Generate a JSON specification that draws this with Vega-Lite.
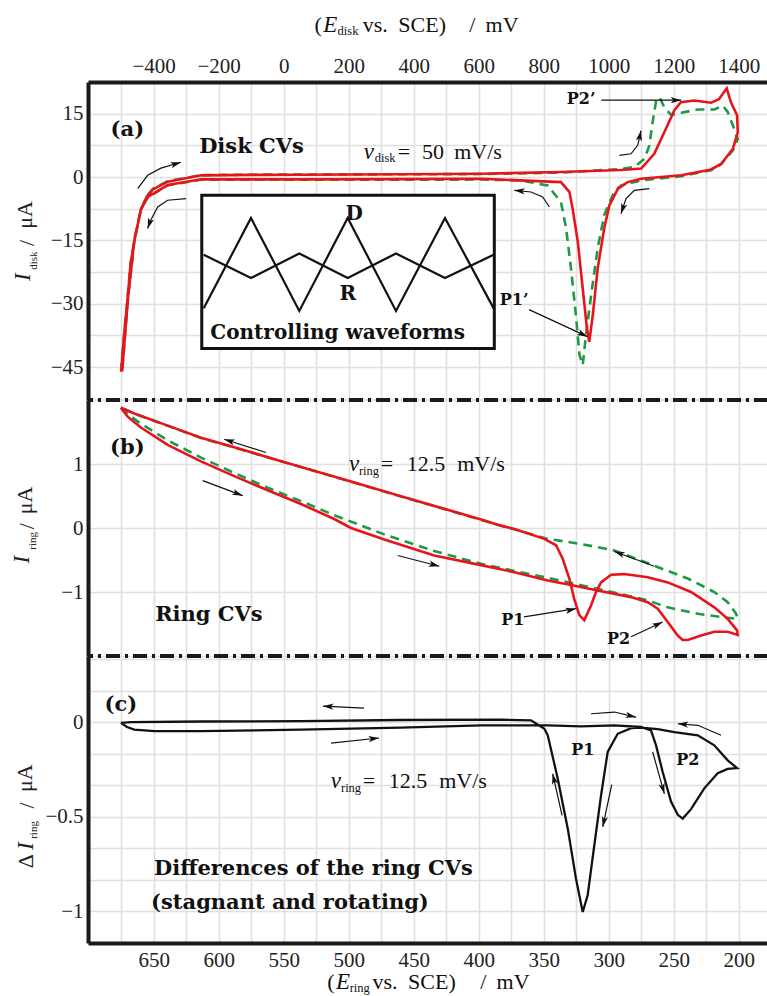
{
"$schema": "https://vega.github.io/schema/vega-lite/v6.json",
"background": "white",
"padding": {"left": 10, "top": 13, "right": 0, "bottom": 0},
"spacing": 0,
"bounds": "flush",
"config": {
 "view": {"stroke": null},
 "axis": {"labelFont": "Liberation Serif", "labelFontSize": 21, "labelColor": "#222", "grid": true, "gridColor": "#e0e0e0", "gridOpacity": 1, "gridWidth": 1.6, "ticks": false, "domainColor": "#1a1a1a", "domainWidth": 4, "labelOverlap": false, "labelFlush": false}
},
"datasets": {
 "diskRed": [
  {"i":1,"x":-500,"y":-46.1},{"i":2,"x":-490,"y":-36.6},{"i":3,"x":-480,"y":-28.7},{"i":4,"x":-471,"y":-20.6},{"i":5,"x":-458,"y":-14.4},{"i":6,"x":-440,"y":-8.0},{"i":7,"x":-421,"y":-4.6},{"i":8,"x":-402,"y":-2.9},{"i":9,"x":-357,"y":-1.1},{"i":10,"x":-254,"y":0.4},{"i":11,"x":-101,"y":0.5},{"i":12,"x":53,"y":0.55},{"i":13,"x":361,"y":0.65},{"i":14,"x":607,"y":0.78},{"i":15,"x":853,"y":1.2},{"i":16,"x":1038,"y":1.65},{"i":17,"x":1100,"y":2.0},{"i":18,"x":1140,"y":5.5},{"i":19,"x":1171,"y":10.6},{"i":20,"x":1202,"y":15.8},{"i":21,"x":1222,"y":17.7},{"i":22,"x":1263,"y":18.1},{"i":23,"x":1315,"y":17.6},{"i":24,"x":1339,"y":18.4},{"i":25,"x":1363,"y":21.0},{"i":26,"x":1376,"y":17.7},{"i":27,"x":1395,"y":14.6},{"i":28,"x":1397,"y":10.6},{"i":29,"x":1382,"y":6.7},{"i":30,"x":1346,"y":3.1},{"i":31,"x":1315,"y":1.8},{"i":32,"x":1223,"y":0.4},{"i":33,"x":1100,"y":-0.4},{"i":34,"x":1058,"y":-1.2},{"i":35,"x":1028,"y":-2.8},{"i":36,"x":1002,"y":-6.7},{"i":37,"x":986,"y":-12.2},{"i":38,"x":966,"y":-21.7},{"i":39,"x":951,"y":-32.7},{"i":40,"x":940,"y":-39.0},{"i":41,"x":933,"y":-35.8},{"i":42,"x":920,"y":-26.4},{"i":43,"x":905,"y":-15.4},{"i":44,"x":889,"y":-7.5},{"i":45,"x":879,"y":-3.5},{"i":46,"x":853,"y":-1.2},{"i":47,"x":607,"y":-0.4},{"i":48,"x":361,"y":-0.5},{"i":49,"x":53,"y":-0.55},{"i":50,"x":-254,"y":-0.55},{"i":51,"x":-357,"y":-1.9},{"i":52,"x":-418,"y":-4.7},{"i":53,"x":-439,"y":-7.5},{"i":54,"x":-460,"y":-15.4},{"i":55,"x":-479,"y":-28.7},{"i":56,"x":-497,"y":-46}
 ],
 "diskGreen": [
  {"i":1,"x":-500,"y":-46},{"i":2,"x":-490,"y":-36.5},{"i":3,"x":-480,"y":-28.6},{"i":4,"x":-471,"y":-20.5},{"i":5,"x":-458,"y":-14.3},{"i":6,"x":-440,"y":-7.9},{"i":7,"x":-421,"y":-4.5},{"i":8,"x":-402,"y":-2.8},{"i":9,"x":-357,"y":-1.0},{"i":10,"x":-254,"y":0.45},{"i":11,"x":-101,"y":0.55},{"i":12,"x":53,"y":0.6},{"i":13,"x":361,"y":0.65},{"i":14,"x":607,"y":0.7},{"i":15,"x":853,"y":1.05},{"i":16,"x":1038,"y":1.9},{"i":17,"x":1079,"y":2.4},{"i":18,"x":1110,"y":4.3},{"i":19,"x":1125,"y":7.5},{"i":20,"x":1135,"y":13.0},{"i":21,"x":1146,"y":18.1},{"i":22,"x":1156,"y":18.9},{"i":23,"x":1171,"y":16.5},{"i":24,"x":1192,"y":14.7},{"i":25,"x":1223,"y":15.2},{"i":26,"x":1274,"y":16.0},{"i":27,"x":1325,"y":16.0},{"i":28,"x":1351,"y":16.9},{"i":29,"x":1366,"y":15.4},{"i":30,"x":1386,"y":11.4},{"i":31,"x":1397,"y":9.0},{"i":32,"x":1382,"y":6.3},{"i":33,"x":1346,"y":3.1},{"i":34,"x":1315,"y":1.6},{"i":35,"x":1223,"y":0.2},{"i":36,"x":1100,"y":-0.8},{"i":37,"x":1038,"y":-2.0},{"i":38,"x":1017,"y":-3.5},{"i":39,"x":986,"y":-9.0},{"i":40,"x":966,"y":-16.9},{"i":41,"x":946,"y":-27.9},{"i":42,"x":930,"y":-37.4},{"i":43,"x":920,"y":-44.5},{"i":44,"x":910,"y":-42.1},{"i":45,"x":899,"y":-32.7},{"i":46,"x":884,"y":-21.7},{"i":47,"x":869,"y":-12.2},{"i":48,"x":853,"y":-5.9},{"i":49,"x":812,"y":-2.0},{"i":50,"x":730,"y":-0.8},{"i":51,"x":607,"y":-0.6},{"i":52,"x":361,"y":-0.65},{"i":53,"x":53,"y":-0.65},{"i":54,"x":-254,"y":-0.65},{"i":55,"x":-357,"y":-2.0},{"i":56,"x":-418,"y":-4.8},{"i":57,"x":-439,"y":-7.6},{"i":58,"x":-460,"y":-15.5},{"i":59,"x":-479,"y":-28.7},{"i":60,"x":-497,"y":-46}
 ],
 "box": [{"x":-252,"x2":648,"y":-4.32,"y2":-40.6}],
 "wave": [
  {"w":"D","i":1,"x":-246,"y":-31.1},{"w":"D","i":2,"x":-100.6,"y":-9.7},{"w":"D","i":3,"x":48,"y":-31.7},{"w":"D","i":4,"x":197,"y":-9.7},{"w":"D","i":5,"x":345.5,"y":-31.7},{"w":"D","i":6,"x":496.3,"y":-9.7},{"w":"D","i":7,"x":646,"y":-31.1},
  {"w":"R","i":1,"x":-246,"y":-18.4},{"w":"R","i":2,"x":-100.6,"y":-23.9},{"w":"R","i":3,"x":48,"y":-18.1},{"w":"R","i":4,"x":197,"y":-23.9},{"w":"R","i":5,"x":345.5,"y":-18.1},{"w":"R","i":6,"x":496.3,"y":-23.9},{"w":"R","i":7,"x":646,"y":-18.4}
 ],
 "sepB": [{"x":177.5,"x2":700.5,"y":2}],
 "sepC": [{"x":177.5,"x2":700.5,"y":0.349}],
 "ringRed": [
  {"i":1,"x":675.2,"y":1.88},{"i":2,"x":670,"y":1.74},{"i":3,"x":659.8,"y":1.57},{"i":4,"x":639.2,"y":1.30},{"i":5,"x":613.6,"y":1.04},{"i":6,"x":588,"y":0.81},{"i":7,"x":562.3,"y":0.59},{"i":8,"x":536.7,"y":0.375},{"i":9,"x":511.1,"y":0.14},{"i":10,"x":498.2,"y":0.0},{"i":11,"x":472.6,"y":-0.18},{"i":12,"x":434.2,"y":-0.43},{"i":13,"x":398.2,"y":-0.58},{"i":14,"x":372.6,"y":-0.69},{"i":15,"x":346.9,"y":-0.82},{"i":16,"x":329,"y":-0.89},{"i":17,"x":308.5,"y":-0.975},{"i":18,"x":282.8,"y":-1.08},{"i":19,"x":270,"y":-1.16},{"i":20,"x":262.3,"y":-1.26},{"i":21,"x":254.6,"y":-1.47},{"i":22,"x":246.9,"y":-1.68},{"i":23,"x":243.1,"y":-1.75},{"i":24,"x":239.2,"y":-1.75},{"i":25,"x":229,"y":-1.68},{"i":26,"x":218.8,"y":-1.62},{"i":27,"x":208.5,"y":-1.62},{"i":28,"x":200.8,"y":-1.67},
  {"i":29,"x":201.3,"y":-1.6},{"i":30,"x":208.5,"y":-1.42},{"i":31,"x":218.8,"y":-1.24},{"i":32,"x":236.7,"y":-1.0},{"i":33,"x":254.6,"y":-0.85},{"i":34,"x":270,"y":-0.77},{"i":35,"x":288,"y":-0.72},{"i":36,"x":298.2,"y":-0.73},{"i":37,"x":305.9,"y":-0.85},{"i":38,"x":309.8,"y":-1.0},{"i":39,"x":313.6,"y":-1.21},{"i":40,"x":318.8,"y":-1.44},{"i":41,"x":322.6,"y":-1.36},{"i":42,"x":326.5,"y":-1.11},{"i":43,"x":330.3,"y":-0.79},{"i":44,"x":335.4,"y":-0.48},{"i":45,"x":340.5,"y":-0.27},{"i":46,"x":349.5,"y":-0.17},{"i":47,"x":372.6,"y":-0.016},{"i":48,"x":382.8,"y":0.037},{"i":49,"x":398.2,"y":0.131},{"i":50,"x":421.3,"y":0.268},{"i":51,"x":459.8,"y":0.497},{"i":52,"x":498.2,"y":0.726},{"i":53,"x":536.7,"y":0.955},{"i":54,"x":562.3,"y":1.107},{"i":55,"x":588,"y":1.26},{"i":56,"x":613.6,"y":1.41},{"i":57,"x":639.2,"y":1.60},{"i":58,"x":664.9,"y":1.79},{"i":59,"x":675.2,"y":1.88}
 ],
 "ringGreen": [
  {"i":1,"x":675.2,"y":1.88},{"i":2,"x":670,"y":1.78},{"i":3,"x":659.8,"y":1.63},{"i":4,"x":639.2,"y":1.37},{"i":5,"x":613.6,"y":1.10},{"i":6,"x":588,"y":0.86},{"i":7,"x":562.3,"y":0.63},{"i":8,"x":536.7,"y":0.42},{"i":9,"x":511.1,"y":0.2},{"i":10,"x":472.6,"y":-0.1},{"i":11,"x":434.2,"y":-0.36},{"i":12,"x":398.2,"y":-0.56},{"i":13,"x":346.9,"y":-0.78},{"i":14,"x":308.5,"y":-0.95},{"i":15,"x":270,"y":-1.13},{"i":16,"x":254.6,"y":-1.24},{"i":17,"x":231.5,"y":-1.34},{"i":18,"x":213.6,"y":-1.39},{"i":19,"x":200.8,"y":-1.42},
  {"i":20,"x":202,"y":-1.34},{"i":21,"x":208.5,"y":-1.16},{"i":22,"x":218.8,"y":-1.0},{"i":23,"x":239.2,"y":-0.79},{"i":24,"x":264.9,"y":-0.59},{"i":25,"x":295.7,"y":-0.35},{"i":26,"x":321.3,"y":-0.25},{"i":27,"x":346.9,"y":-0.17},{"i":28,"x":372.6,"y":-0.02},{"i":29,"x":382.8,"y":0.035},{"i":30,"x":398.2,"y":0.128},{"i":31,"x":421.3,"y":0.265},{"i":32,"x":459.8,"y":0.494},{"i":33,"x":498.2,"y":0.723},{"i":34,"x":536.7,"y":0.952},{"i":35,"x":562.3,"y":1.104},{"i":36,"x":588,"y":1.257},{"i":37,"x":613.6,"y":1.407},{"i":38,"x":639.2,"y":1.597},{"i":39,"x":664.9,"y":1.787},{"i":40,"x":675.2,"y":1.88}
 ],
 "diff": [
  {"i":1,"x":675.2,"y":-0.004},{"i":2,"x":670.5,"y":-0.026},{"i":3,"x":664.9,"y":-0.04},{"i":4,"x":649.5,"y":-0.048},{"i":5,"x":613.6,"y":-0.048},{"i":6,"x":536.7,"y":-0.04},{"i":7,"x":459.8,"y":-0.029},{"i":8,"x":398.2,"y":-0.017},{"i":9,"x":346.9,"y":-0.017},{"i":10,"x":321.3,"y":-0.023},{"i":11,"x":295.7,"y":-0.017},{"i":12,"x":275.2,"y":-0.026},{"i":13,"x":267.5,"y":-0.044},{"i":14,"x":263.6,"y":-0.123},{"i":15,"x":258.5,"y":-0.264},{"i":16,"x":252.1,"y":-0.42},{"i":17,"x":246.9,"y":-0.49},{"i":18,"x":243.1,"y":-0.51},{"i":19,"x":236.7,"y":-0.46},{"i":20,"x":226.5,"y":-0.35},{"i":21,"x":216.2,"y":-0.27},{"i":22,"x":208.5,"y":-0.247},{"i":23,"x":201.3,"y":-0.243},
  {"i":24,"x":208.5,"y":-0.202},{"i":25,"x":218.8,"y":-0.123},{"i":26,"x":231.5,"y":-0.07},{"i":27,"x":249.5,"y":-0.053},{"i":28,"x":262.3,"y":-0.037},{"i":29,"x":275.2,"y":-0.029},{"i":30,"x":282.8,"y":-0.032},{"i":31,"x":293.1,"y":-0.062},{"i":32,"x":300.8,"y":-0.158},{"i":33,"x":305.9,"y":-0.387},{"i":34,"x":311.1,"y":-0.651},{"i":35,"x":316.2,"y":-0.915},{"i":36,"x":320,"y":-1.003},{"i":37,"x":325.2,"y":-0.827},{"i":38,"x":331.5,"y":-0.563},{"i":39,"x":339.2,"y":-0.299},{"i":40,"x":346.9,"y":-0.07},{"i":41,"x":349.5,"y":-0.035},{"i":42,"x":359.8,"y":0.009},{"i":43,"x":382.8,"y":0.013},{"i":44,"x":459.8,"y":0.011},{"i":45,"x":536.7,"y":0.005},{"i":46,"x":613.6,"y":0.003},{"i":47,"x":667.5,"y":0.0},{"i":48,"x":675.2,"y":-0.004}
 ],
 "arr": [
  {"p":"a","a":1,"i":1,"x":-449,"y":-2.76},{"p":"a","a":1,"i":2,"x":-418.5,"y":0.4},{"p":"a","a":1,"i":3,"x":-377.5,"y":2.1},{"p":"a","a":1,"i":4,"x":-316,"y":3.5},
  {"p":"a","a":2,"i":1,"x":-300.6,"y":-5.13},{"p":"a","a":2,"i":2,"x":-357,"y":-5.5},{"p":"a","a":2,"i":3,"x":-387.7,"y":-7.1},{"p":"a","a":2,"i":4,"x":-411.4,"y":-10.6},{"p":"a","a":2,"i":5,"x":-418.5,"y":-12.2},
  {"p":"a","a":3,"i":1,"x":1032.6,"y":5.13},{"p":"a","a":3,"i":2,"x":1068.6,"y":5.5},{"p":"a","a":3,"i":3,"x":1089.2,"y":7.5},{"p":"a","a":3,"i":4,"x":1099.4,"y":11.0},
  {"p":"a","a":4,"i":1,"x":1125,"y":-2.76},{"p":"a","a":4,"i":2,"x":1078.8,"y":-3.14},{"p":"a","a":4,"i":3,"x":1053.2,"y":-5.13},{"p":"a","a":4,"i":4,"x":1037.8,"y":-8.67},
  {"p":"a","a":5,"i":1,"x":817.2,"y":-7.09},{"p":"a","a":5,"i":2,"x":796.9,"y":-4.72},{"p":"a","a":5,"i":3,"x":760.9,"y":-3.54},{"p":"a","a":5,"i":4,"x":709.5,"y":-3.14},
  {"p":"a","a":6,"i":1,"x":977,"y":18.2},{"p":"a","a":6,"i":2,"x":1223,"y":18.2},
  {"p":"a","a":7,"i":1,"x":754.8,"y":-31.4},{"p":"a","a":7,"i":2,"x":934.8,"y":-37.8},
  {"p":"b","a":1,"i":1,"x":563.6,"y":1.18},{"p":"b","a":1,"i":2,"x":595.7,"y":1.386},
  {"p":"b","a":2,"i":1,"x":612.3,"y":0.74},{"p":"b","a":2,"i":2,"x":581.5,"y":0.505},
  {"p":"b","a":3,"i":1,"x":462.3,"y":-0.43},{"p":"b","a":3,"i":2,"x":430.3,"y":-0.597},
  {"p":"b","a":4,"i":1,"x":264.9,"y":-0.597},{"p":"b","a":4,"i":2,"x":295.7,"y":-0.368},
  {"p":"b","a":5,"i":1,"x":365.2,"y":-1.39},{"p":"b","a":5,"i":2,"x":325.2,"y":-1.26},
  {"p":"b","a":6,"i":1,"x":282.8,"y":-1.7},{"p":"b","a":6,"i":2,"x":258.5,"y":-1.47},
  {"p":"c","a":1,"i":1,"x":488.2,"y":0.074},{"p":"c","a":1,"i":2,"x":519.8,"y":0.084},
  {"p":"c","a":2,"i":1,"x":513.6,"y":-0.111},{"p":"c","a":2,"i":2,"x":476.7,"y":-0.084},
  {"p":"c","a":3,"i":1,"x":313.6,"y":0.044},{"p":"c","a":3,"i":2,"x":295.7,"y":0.053},{"p":"c","a":3,"i":3,"x":279,"y":0.026},
  {"p":"c","a":4,"i":1,"x":213.6,"y":-0.07},{"p":"c","a":4,"i":2,"x":231.5,"y":-0.017},{"p":"c","a":4,"i":3,"x":246.9,"y":-0.009},
  {"p":"c","a":5,"i":1,"x":335.9,"y":-0.493},{"p":"c","a":5,"i":2,"x":343.1,"y":-0.273},
  {"p":"c","a":6,"i":1,"x":297.7,"y":-0.331},{"p":"c","a":6,"i":2,"x":304.6,"y":-0.554},
  {"p":"c","a":7,"i":1,"x":266.2,"y":-0.158},{"p":"c","a":7,"i":2,"x":257.2,"y":-0.379}
 ],
 "head": [
  {"p":"a","x":-316,"y":3.5,"ang":343},{"p":"a","x":-418.5,"y":-12.2,"ang":109},{"p":"a","x":1099.4,"y":11.0,"ang":282},{"p":"a","x":1037.8,"y":-8.67,"ang":108},{"p":"a","x":709.5,"y":-3.14,"ang":186},{"p":"a","x":1223,"y":18.2,"ang":0},{"p":"a","x":934.8,"y":-37.8,"ang":25},
  {"p":"b","x":595.7,"y":1.386,"ang":198},{"p":"b","x":581.5,"y":0.505,"ang":21},{"p":"b","x":430.3,"y":-0.597,"ang":14},{"p":"b","x":295.7,"y":-0.368,"ang":200},{"p":"b","x":325.2,"y":-1.26,"ang":348},{"p":"b","x":258.5,"y":-1.47,"ang":335},
  {"p":"c","x":519.8,"y":0.084,"ang":183},{"p":"c","x":476.7,"y":-0.084,"ang":354},{"p":"c","x":279,"y":0.026,"ang":13},{"p":"c","x":246.9,"y":-0.009,"ang":185},{"p":"c","x":343.1,"y":-0.273,"ang":257},{"p":"c","x":304.6,"y":-0.554,"ang":102},{"p":"c","x":257.2,"y":-0.379,"ang":74}
 ],
 "txt": [
  {"p":"a","k":"B","t":"(a)","x":-481,"y":11.1},
  {"p":"a","k":"B","t":"Disk CVs","x":-99,"y":7.2},
  {"p":"a","k":"I","t":"ν","x":262,"y":5.9},
  {"p":"a","k":"S","t":"disk","x":312,"y":4.4},
  {"p":"a","k":"N","t":"=","x":370,"y":5.9},
  {"p":"a","k":"N","t":"50","x":459,"y":5.9},
  {"p":"a","k":"N","t":"mV/s","x":598,"y":5.9},
  {"p":"a","k":"P","t":"P2’","x":915,"y":18.5},
  {"p":"a","k":"P","t":"P1’","x":709,"y":-29.1},
  {"p":"a","k":"W","t":"D","x":217,"y":-8.7},
  {"p":"a","k":"W","t":"R","x":197,"y":-27.6},
  {"p":"a","k":"W","t":"Controlling waveforms","x":166,"y":-37.0},
  {"p":"a","k":"TN","t":"(","x":106,"y":36.1},
  {"p":"a","k":"TI","t":"E","x":143,"y":36.1},
  {"p":"a","k":"TS","t":"disk","x":198,"y":34.6},
  {"p":"a","k":"TN","t":"vs.","x":282,"y":36.1},
  {"p":"a","k":"TN","t":"SCE)","x":426,"y":36.1},
  {"p":"a","k":"TN","t":"/","x":580,"y":36.1},
  {"p":"a","k":"TN","t":"mV","x":672,"y":36.1},
  {"p":"a","k":"IR","t":"I","x":-801,"y":-23.7},
  {"p":"a","k":"SR","t":"disk","x":-768,"y":-19.8},
  {"p":"a","k":"NR","t":"/","x":-790,"y":-15.6},
  {"p":"a","k":"NR","t":"μA","x":-796,"y":-9.0},
  {"p":"b","k":"B","t":"(b)","x":670.2,"y":1.257},
  {"p":"b","k":"B","t":"Ring CVs","x":607.5,"y":-1.36},
  {"p":"b","k":"I","t":"ν","x":495.9,"y":0.997},
  {"p":"b","k":"S","t":"ring","x":484.4,"y":0.883},
  {"p":"b","k":"N","t":"=","x":470.5,"y":0.997},
  {"p":"b","k":"N","t":"12.5","x":440.5,"y":0.997},
  {"p":"b","k":"N","t":"mV/s","x":398.2,"y":0.997},
  {"p":"b","k":"P","t":"P1","x":373.8,"y":-1.433},
  {"p":"b","k":"P","t":"P2","x":292.5,"y":-1.73},
  {"p":"b","k":"IR","t":"I","x":751.3,"y":-0.495},
  {"p":"b","k":"SR","t":"ring","x":742.8,"y":-0.2},
  {"p":"b","k":"NR","t":"/","x":747.5,"y":0.03},
  {"p":"b","k":"NR","t":"μA","x":749,"y":0.431},
  {"p":"c","k":"B","t":"(c)","x":675.2,"y":0.09},
  {"p":"c","k":"P","t":"P1","x":320,"y":-0.15},
  {"p":"c","k":"P","t":"P2","x":239.2,"y":-0.198},
  {"p":"c","k":"B","t":"Differences of the ring CVs","x":527.1,"y":-0.776},
  {"p":"c","k":"B","t":"(stagnant and rotating)","x":545.2,"y":-0.956},
  {"p":"c","k":"I","t":"ν","x":509.8,"y":-0.312},
  {"p":"c","k":"S","t":"ring","x":498.2,"y":-0.348},
  {"p":"c","k":"N","t":"=","x":484.4,"y":-0.312},
  {"p":"c","k":"N","t":"12.5","x":454.4,"y":-0.312},
  {"p":"c","k":"N","t":"mV/s","x":412.1,"y":-0.312},
  {"p":"c","k":"NR","t":"Δ","x":748.2,"y":-0.735},
  {"p":"c","k":"IR","t":"I","x":748.2,"y":-0.655},
  {"p":"c","k":"SR","t":"ring","x":742,"y":-0.57},
  {"p":"c","k":"NR","t":"/","x":747.5,"y":-0.44},
  {"p":"c","k":"NR","t":"μA","x":749,"y":-0.296},
  {"p":"c","k":"TN","t":"(","x":513.6,"y":-1.374},
  {"p":"c","k":"TI","t":"E","x":504.4,"y":-1.374},
  {"p":"c","k":"TS","t":"ring","x":491.5,"y":-1.405},
  {"p":"c","k":"TN","t":"vs.","x":472,"y":-1.374},
  {"p":"c","k":"TN","t":"SCE)","x":436,"y":-1.374},
  {"p":"c","k":"TN","t":"/","x":396.5,"y":-1.374},
  {"p":"c","k":"TN","t":"mV","x":373.6,"y":-1.374}
 ]
},
"vconcat": [
 {
  "width": 680, "height": 318,
  "encoding": {
   "x": {"field":"x","type":"quantitative","scale":{"domain":[-602,1490],"nice":false,"zero":false},
    "axis":{"orient":"top","title":null,"format":"d","values":[-600,-500,-400,-300,-200,-100,0,100,200,300,400,500,600,700,800,900,1000,1100,1200,1300,1400],"labelExpr":"(datum.value % 200 == 0 && datum.value > -600) ? datum.label : ''","labelPadding":6,"grid":true}},
   "y": {"field":"y","type":"quantitative","scale":{"domain":[-52.8,22.5],"nice":false,"zero":false},
    "axis":{"title":null,"format":"d","values":[22.5,15,7.5,0,-7.5,-15,-22.5,-30,-37.5,-45,-52.5],"labelExpr":"(abs(datum.value) % 15 == 0) ? datum.label : ''","labelPadding":5,"grid":true}}
  },
  "layer": [
   {"data":{"name":"box"},"mark":{"type":"rect","fill":"white","stroke":"#111","strokeWidth":3},
    "encoding":{"x2":{"field":"x2"},"y2":{"field":"y2"}}},
   {"data":{"name":"diskGreen"},"mark":{"type":"line","color":"#1c9a45","strokeWidth":2.6,"strokeDash":[9,6]},"encoding":{"order":{"field":"i","type":"quantitative"}}},
   {"data":{"name":"diskRed"},"mark":{"type":"line","color":"#e8141c","strokeWidth":2.6},"encoding":{"order":{"field":"i","type":"quantitative"}}},
   {"data":{"name":"wave"},"mark":{"type":"line","color":"#111","strokeWidth":2.2},"encoding":{"detail":{"field":"w"},"order":{"field":"i","type":"quantitative"}}},
   {"data":{"name":"arr"},"transform":[{"filter":"datum.p == 'a'"}],"mark":{"type":"line","color":"#111","strokeWidth":1.2},"encoding":{"detail":{"field":"a"},"order":{"field":"i","type":"quantitative"}}},
   {"data":{"name":"head"},"transform":[{"filter":"datum.p == 'a'"}],"mark":{"type":"point","shape":"M0,0L-2,-0.6L-1.5,0L-2,0.6Z","filled":true,"color":"#111","opacity":1,"size":110},"encoding":{"angle":{"field":"ang","type":"quantitative","scale":null}}},
   {"data":{"name":"txt"},"transform":[{"filter":"datum.p == 'a' && datum.k == 'B'"}],"mark":{"type":"text","font":"DejaVu Serif","fontWeight":"bold","fontSize":21,"fill":"#111"},"encoding":{"text":{"field":"t"}}},
   {"data":{"name":"txt"},"transform":[{"filter":"datum.p == 'a' && datum.k == 'P'"}],"mark":{"type":"text","font":"DejaVu Serif","fontWeight":"bold","fontSize":16,"fill":"#111"},"encoding":{"text":{"field":"t"}}},
   {"data":{"name":"txt"},"transform":[{"filter":"datum.p == 'a' && datum.k == 'W'"}],"mark":{"type":"text","font":"DejaVu Serif","fontWeight":"bold","fontSize":20,"fill":"#111"},"encoding":{"text":{"field":"t"}}},
   {"data":{"name":"txt"},"transform":[{"filter":"datum.p == 'a' && (datum.k == 'I' || datum.k == 'TI')"}],"mark":{"type":"text","font":"Liberation Serif","fontStyle":"italic","fontSize":23,"fill":"#111"},"encoding":{"text":{"field":"t"}}},
   {"data":{"name":"txt"},"transform":[{"filter":"datum.p == 'a' && (datum.k == 'S' || datum.k == 'TS')"}],"mark":{"type":"text","font":"Liberation Serif","fontSize":12.5,"fill":"#111"},"encoding":{"text":{"field":"t"}}},
   {"data":{"name":"txt"},"transform":[{"filter":"datum.p == 'a' && (datum.k == 'N' || datum.k == 'TN')"}],"mark":{"type":"text","font":"Liberation Serif","fontSize":22,"fill":"#111"},"encoding":{"text":{"field":"t"}}},
   {"data":{"name":"txt"},"transform":[{"filter":"datum.p == 'a' && datum.k == 'IR'"}],"mark":{"type":"text","font":"Liberation Serif","fontStyle":"italic","fontSize":23,"fill":"#222","angle":270},"encoding":{"text":{"field":"t"}}},
   {"data":{"name":"txt"},"transform":[{"filter":"datum.p == 'a' && datum.k == 'SR'"}],"mark":{"type":"text","font":"Liberation Serif","fontSize":11,"fill":"#222","angle":270},"encoding":{"text":{"field":"t"}}},
   {"data":{"name":"txt"},"transform":[{"filter":"datum.p == 'a' && datum.k == 'NR'"}],"mark":{"type":"text","font":"Liberation Serif","fontSize":22,"fill":"#222","angle":270},"encoding":{"text":{"field":"t"}}}
  ]
 },
 {
  "width": 680, "height": 256,
  "encoding": {
   "x": {"field":"x","type":"quantitative","scale":{"domain":[177.5,700.5],"reverse":true,"nice":false,"zero":false},
    "axis":{"orient":"bottom","title":null,"labels":false,"domain":false,"values":[200,225,250,275,300,325,350,375,400,425,450,475,500,525,550,575,600,625,650,675,700],"grid":true}},
   "y": {"field":"y","type":"quantitative","scale":{"domain":[-2,2],"nice":false,"zero":false},
    "axis":{"title":null,"format":"d","values":[2,1.5,1,0.5,0,-0.5,-1,-1.5,-2],"labelExpr":"(datum.value == 0 || abs(datum.value) == 1) ? datum.label : ''","labelPadding":5,"grid":true}}
  },
  "layer": [
   {"data":{"name":"ringGreen"},"mark":{"type":"line","color":"#1c9a45","strokeWidth":2.6,"strokeDash":[9,6]},"encoding":{"order":{"field":"i","type":"quantitative"}}},
   {"data":{"name":"ringRed"},"mark":{"type":"line","color":"#e8141c","strokeWidth":2.6},"encoding":{"order":{"field":"i","type":"quantitative"}}},
   {"data":{"name":"arr"},"transform":[{"filter":"datum.p == 'b'"}],"mark":{"type":"line","color":"#111","strokeWidth":1.2},"encoding":{"detail":{"field":"a"},"order":{"field":"i","type":"quantitative"}}},
   {"data":{"name":"head"},"transform":[{"filter":"datum.p == 'b'"}],"mark":{"type":"point","shape":"M0,0L-2,-0.6L-1.5,0L-2,0.6Z","filled":true,"color":"#111","opacity":1,"size":110},"encoding":{"angle":{"field":"ang","type":"quantitative","scale":null}}},
   {"data":{"name":"txt"},"transform":[{"filter":"datum.p == 'b' && datum.k == 'B'"}],"mark":{"type":"text","font":"DejaVu Serif","fontWeight":"bold","fontSize":21,"fill":"#111"},"encoding":{"text":{"field":"t"}}},
   {"data":{"name":"txt"},"transform":[{"filter":"datum.p == 'b' && datum.k == 'P'"}],"mark":{"type":"text","font":"DejaVu Serif","fontWeight":"bold","fontSize":16,"fill":"#111"},"encoding":{"text":{"field":"t"}}},
   {"data":{"name":"txt"},"transform":[{"filter":"datum.p == 'b' && datum.k == 'I'"}],"mark":{"type":"text","font":"Liberation Serif","fontStyle":"italic","fontSize":23,"fill":"#111"},"encoding":{"text":{"field":"t"}}},
   {"data":{"name":"txt"},"transform":[{"filter":"datum.p == 'b' && datum.k == 'S'"}],"mark":{"type":"text","font":"Liberation Serif","fontSize":12.5,"fill":"#111"},"encoding":{"text":{"field":"t"}}},
   {"data":{"name":"txt"},"transform":[{"filter":"datum.p == 'b' && datum.k == 'N'"}],"mark":{"type":"text","font":"Liberation Serif","fontSize":22,"fill":"#111"},"encoding":{"text":{"field":"t"}}},
   {"data":{"name":"txt"},"transform":[{"filter":"datum.p == 'b' && datum.k == 'IR'"}],"mark":{"type":"text","font":"Liberation Serif","fontStyle":"italic","fontSize":23,"fill":"#222","angle":270},"encoding":{"text":{"field":"t"}}},
   {"data":{"name":"txt"},"transform":[{"filter":"datum.p == 'b' && datum.k == 'SR'"}],"mark":{"type":"text","font":"Liberation Serif","fontSize":11,"fill":"#222","angle":270},"encoding":{"text":{"field":"t"}}},
   {"data":{"name":"txt"},"transform":[{"filter":"datum.p == 'b' && datum.k == 'NR'"}],"mark":{"type":"text","font":"Liberation Serif","fontSize":22,"fill":"#222","angle":270},"encoding":{"text":{"field":"t"}}},
   {"data":{"name":"sepB"},"mark":{"type":"rule","color":"#1a1a1a","strokeWidth":4,"strokeDash":[14,5,3,5]},"encoding":{"x2":{"field":"x2"}}}
  ]
 },
 {
  "width": 680, "height": 287,
  "encoding": {
   "x": {"field":"x","type":"quantitative","scale":{"domain":[177.5,700.5],"reverse":true,"nice":false,"zero":false},
    "axis":{"orient":"bottom","title":null,"format":"d","values":[200,225,250,275,300,325,350,375,400,425,450,475,500,525,550,575,600,625,650,675,700],"labelExpr":"(datum.value % 50 == 0 && datum.value < 700) ? datum.label : ''","labelPadding":6,"grid":true}},
   "y": {"field":"y","type":"quantitative","scale":{"domain":[-1.167,0.349],"nice":false,"zero":false},
    "axis":{"title":null,"format":"~g","values":[0.33333,0.16667,0,-0.16667,-0.33333,-0.5,-0.66667,-0.83333,-1],"labelExpr":"(datum.value == 0 || datum.value == -0.5 || datum.value == -1) ? datum.label : ''","labelPadding":5,"grid":true}}
  },
  "layer": [
   {"data":{"name":"diff"},"mark":{"type":"line","color":"#111","strokeWidth":2.3},"encoding":{"order":{"field":"i","type":"quantitative"}}},
   {"data":{"name":"arr"},"transform":[{"filter":"datum.p == 'c'"}],"mark":{"type":"line","color":"#111","strokeWidth":1.2},"encoding":{"detail":{"field":"a"},"order":{"field":"i","type":"quantitative"}}},
   {"data":{"name":"head"},"transform":[{"filter":"datum.p == 'c'"}],"mark":{"type":"point","shape":"M0,0L-2,-0.6L-1.5,0L-2,0.6Z","filled":true,"color":"#111","opacity":1,"size":110},"encoding":{"angle":{"field":"ang","type":"quantitative","scale":null}}},
   {"data":{"name":"txt"},"transform":[{"filter":"datum.p == 'c' && datum.k == 'B'"}],"mark":{"type":"text","font":"DejaVu Serif","fontWeight":"bold","fontSize":21,"fill":"#111"},"encoding":{"text":{"field":"t"}}},
   {"data":{"name":"txt"},"transform":[{"filter":"datum.p == 'c' && datum.k == 'P'"}],"mark":{"type":"text","font":"DejaVu Serif","fontWeight":"bold","fontSize":16,"fill":"#111"},"encoding":{"text":{"field":"t"}}},
   {"data":{"name":"txt"},"transform":[{"filter":"datum.p == 'c' && (datum.k == 'I' || datum.k == 'TI')"}],"mark":{"type":"text","font":"Liberation Serif","fontStyle":"italic","fontSize":23,"fill":"#111"},"encoding":{"text":{"field":"t"}}},
   {"data":{"name":"txt"},"transform":[{"filter":"datum.p == 'c' && (datum.k == 'S' || datum.k == 'TS')"}],"mark":{"type":"text","font":"Liberation Serif","fontSize":12.5,"fill":"#111"},"encoding":{"text":{"field":"t"}}},
   {"data":{"name":"txt"},"transform":[{"filter":"datum.p == 'c' && (datum.k == 'N' || datum.k == 'TN')"}],"mark":{"type":"text","font":"Liberation Serif","fontSize":22,"fill":"#111"},"encoding":{"text":{"field":"t"}}},
   {"data":{"name":"txt"},"transform":[{"filter":"datum.p == 'c' && datum.k == 'IR'"}],"mark":{"type":"text","font":"Liberation Serif","fontStyle":"italic","fontSize":23,"fill":"#222","angle":270},"encoding":{"text":{"field":"t"}}},
   {"data":{"name":"txt"},"transform":[{"filter":"datum.p == 'c' && datum.k == 'SR'"}],"mark":{"type":"text","font":"Liberation Serif","fontSize":11,"fill":"#222","angle":270},"encoding":{"text":{"field":"t"}}},
   {"data":{"name":"txt"},"transform":[{"filter":"datum.p == 'c' && datum.k == 'NR'"}],"mark":{"type":"text","font":"Liberation Serif","fontSize":22,"fill":"#222","angle":270},"encoding":{"text":{"field":"t"}}},
   {"data":{"name":"sepC"},"mark":{"type":"rule","color":"#1a1a1a","strokeWidth":4,"strokeDash":[14,5,3,5]},"encoding":{"x2":{"field":"x2"}}}
  ]
 }
]
}
